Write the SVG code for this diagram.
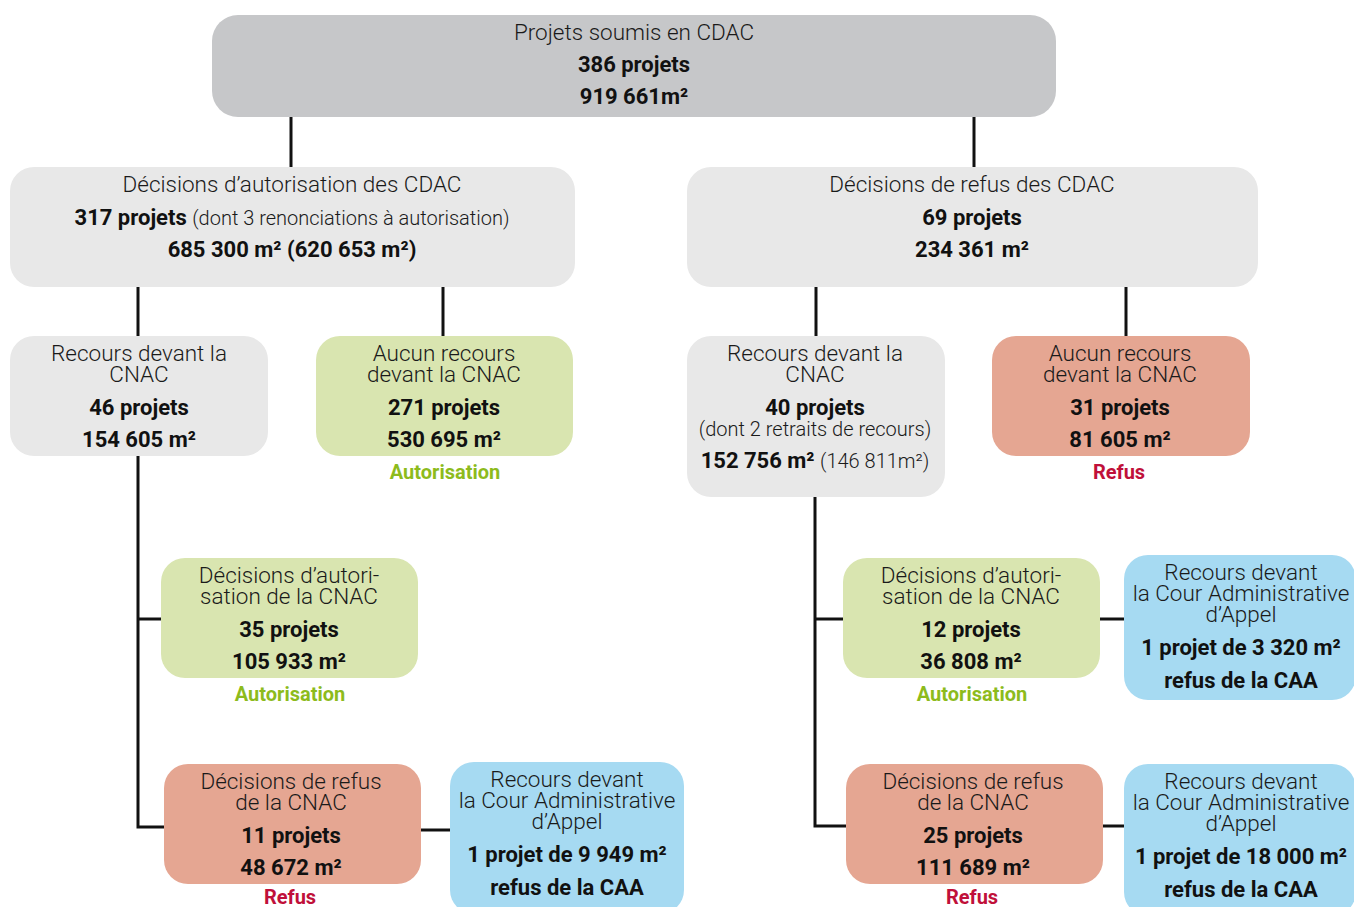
<svg xmlns="http://www.w3.org/2000/svg" width="1354" height="907" viewBox="0 0 1354 907">
<style>
  .l { font-family: Roboto, "Liberation Sans", sans-serif; font-weight: 300; font-size: 22.5px; fill: #1a1a1a; text-anchor: middle; }
  .b { font-family: Roboto, "Liberation Sans", sans-serif; font-weight: 700; font-size: 22px; fill: #111; text-anchor: middle; }
  .s { font-family: Roboto, "Liberation Sans", sans-serif; font-weight: 300; font-size: 20px; fill: #1a1a1a; text-anchor: middle; }
  .ga { font-family: Roboto, "Liberation Sans", sans-serif; font-weight: 700; font-size: 20px; fill: #8dbb1c; text-anchor: middle; }
  .rf { font-family: Roboto, "Liberation Sans", sans-serif; font-weight: 700; font-size: 20px; fill: #c0103a; text-anchor: middle; }
  .top { fill: #c6c7c9; }
  .gray { fill: #e8e8e8; }
  .green { fill: #d9e5b0; }
  .salmon { fill: #e5a692; }
  .blue { fill: #a6daf2; }
  .c { stroke: #111; stroke-width: 3; fill: none; }
</style>
<rect width="1354" height="907" fill="#ffffff"/>
<g id="connectors">
  <line class="c" x1="291" y1="116" x2="291" y2="168"/>
  <line class="c" x1="974" y1="116" x2="974" y2="168"/>
  <line class="c" x1="138" y1="286" x2="138" y2="337"/>
  <line class="c" x1="443" y1="286" x2="443" y2="337"/>
  <line class="c" x1="816" y1="286" x2="816" y2="337"/>
  <line class="c" x1="1126" y1="286" x2="1126" y2="337"/>
  <polyline class="c" points="138,455 138,827 165,827"/>
  <line class="c" x1="138" y1="619" x2="162" y2="619"/>
  <line class="c" x1="420" y1="830" x2="451" y2="830"/>
  <polyline class="c" points="815,496 815,826 847,826"/>
  <line class="c" x1="815" y1="619" x2="844" y2="619"/>
  <line class="c" x1="1099" y1="619" x2="1125" y2="619"/>
  <line class="c" x1="1102" y1="826" x2="1125" y2="826"/>
</g>
<g id="n-cdac">
  <rect class="top" x="212" y="15" width="844" height="102" rx="26"/>
  <text class="l" x="634" y="40">Projets soumis en CDAC</text>
  <text class="b" x="634" y="72">386 projets</text>
  <text class="b" x="634" y="104">919 661m²</text>
</g>
<g id="n-autorisation-cdac">
  <rect class="gray" x="10" y="167" width="565" height="120" rx="24"/>
  <text class="l" x="292" y="192">Décisions d’autorisation des CDAC</text>
  <text class="b" x="292" y="225">317 projets <tspan class="s" style="font-weight:300">(dont 3 renonciations à autorisation)</tspan></text>
  <text class="b" x="292" y="257">685 300 m² (620 653 m²)</text>
</g>
<g id="n-refus-cdac">
  <rect class="gray" x="687" y="167" width="571" height="120" rx="24"/>
  <text class="l" x="972" y="192">Décisions de refus des CDAC</text>
  <text class="b" x="972" y="225">69 projets</text>
  <text class="b" x="972" y="257">234 361 m²</text>
</g>
<g id="n-recours-cnac-a">
  <rect class="gray" x="10" y="336" width="258" height="120" rx="24"/>
  <text class="l" x="139" y="361">Recours devant la</text>
  <text class="l" x="139" y="382">CNAC</text>
  <text class="b" x="139" y="415">46 projets</text>
  <text class="b" x="139" y="447">154 605 m²</text>
</g>
<g id="n-aucun-recours-a">
  <rect class="green" x="316" y="336" width="257" height="120" rx="24"/>
  <text class="l" x="444" y="361">Aucun recours</text>
  <text class="l" x="444" y="382">devant la CNAC</text>
  <text class="b" x="444" y="415">271 projets</text>
  <text class="b" x="444" y="447">530 695 m²</text>
  <text class="ga" x="445" y="479">Autorisation</text>
</g>
<g id="n-recours-cnac-r">
  <rect class="gray" x="687" y="336" width="258" height="161" rx="24"/>
  <text class="l" x="815" y="361">Recours devant la</text>
  <text class="l" x="815" y="382">CNAC</text>
  <text class="b" x="815" y="415">40 projets</text>
  <text class="s" x="815" y="436">(dont 2 retraits de recours)</text>
  <text class="b" x="815" y="468">152 756 m² <tspan class="s" style="font-weight:300">(146 811m²)</tspan></text>
</g>
<g id="n-aucun-recours-r">
  <rect class="salmon" x="992" y="336" width="258" height="120" rx="24"/>
  <text class="l" x="1120" y="361">Aucun recours</text>
  <text class="l" x="1120" y="382">devant la CNAC</text>
  <text class="b" x="1120" y="415">31 projets</text>
  <text class="b" x="1120" y="447">81 605 m²</text>
  <text class="rf" x="1119" y="479">Refus</text>
</g>
<g id="n-autorisation-cnac-a">
  <rect class="green" x="161" y="558" width="257" height="120" rx="24"/>
  <text class="l" x="289" y="583">Décisions d’autori-</text>
  <text class="l" x="289" y="604">sation de la CNAC</text>
  <text class="b" x="289" y="637">35 projets</text>
  <text class="b" x="289" y="669">105 933 m²</text>
  <text class="ga" x="290" y="701">Autorisation</text>
</g>
<g id="n-refus-cnac-a">
  <rect class="salmon" x="164" y="764" width="257" height="120" rx="24"/>
  <text class="l" x="291" y="789">Décisions de refus</text>
  <text class="l" x="291" y="810">de la CNAC</text>
  <text class="b" x="291" y="843">11 projets</text>
  <text class="b" x="291" y="875">48 672 m²</text>
  <text class="rf" x="290" y="904">Refus</text>
</g>
<g id="n-caa-a">
  <rect class="blue" x="450" y="762" width="234" height="152" rx="24"/>
  <text class="l" x="567" y="787">Recours devant</text>
  <text class="l" x="567" y="808">la Cour Administrative</text>
  <text class="l" x="567" y="829">d’Appel</text>
  <text class="b" x="567" y="862">1 projet de 9 949 m²</text>
  <text class="b" x="567" y="895">refus de la CAA</text>
</g>
<g id="n-autorisation-cnac-r">
  <rect class="green" x="843" y="558" width="257" height="120" rx="24"/>
  <text class="l" x="971" y="583">Décisions d’autori-</text>
  <text class="l" x="971" y="604">sation de la CNAC</text>
  <text class="b" x="971" y="637">12 projets</text>
  <text class="b" x="971" y="669">36 808 m²</text>
  <text class="ga" x="972" y="701">Autorisation</text>
</g>
<g id="n-caa-r1">
  <rect class="blue" x="1124" y="555" width="232" height="145" rx="24"/>
  <text class="l" x="1241" y="580">Recours devant</text>
  <text class="l" x="1241" y="601">la Cour Administrative</text>
  <text class="l" x="1241" y="622">d’Appel</text>
  <text class="b" x="1241" y="655">1 projet de 3 320 m²</text>
  <text class="b" x="1241" y="688">refus de la CAA</text>
</g>
<g id="n-refus-cnac-r">
  <rect class="salmon" x="846" y="764" width="257" height="120" rx="24"/>
  <text class="l" x="973" y="789">Décisions de refus</text>
  <text class="l" x="973" y="810">de la CNAC</text>
  <text class="b" x="973" y="843">25 projets</text>
  <text class="b" x="973" y="875">111 689 m²</text>
  <text class="rf" x="972" y="904">Refus</text>
</g>
<g id="n-caa-r2">
  <rect class="blue" x="1124" y="764" width="232" height="152" rx="24"/>
  <text class="l" x="1241" y="789">Recours devant</text>
  <text class="l" x="1241" y="810">la Cour Administrative</text>
  <text class="l" x="1241" y="831">d’Appel</text>
  <text class="b" x="1241" y="864">1 projet de 18 000 m²</text>
  <text class="b" x="1241" y="897">refus de la CAA</text>
</g>
</svg>
